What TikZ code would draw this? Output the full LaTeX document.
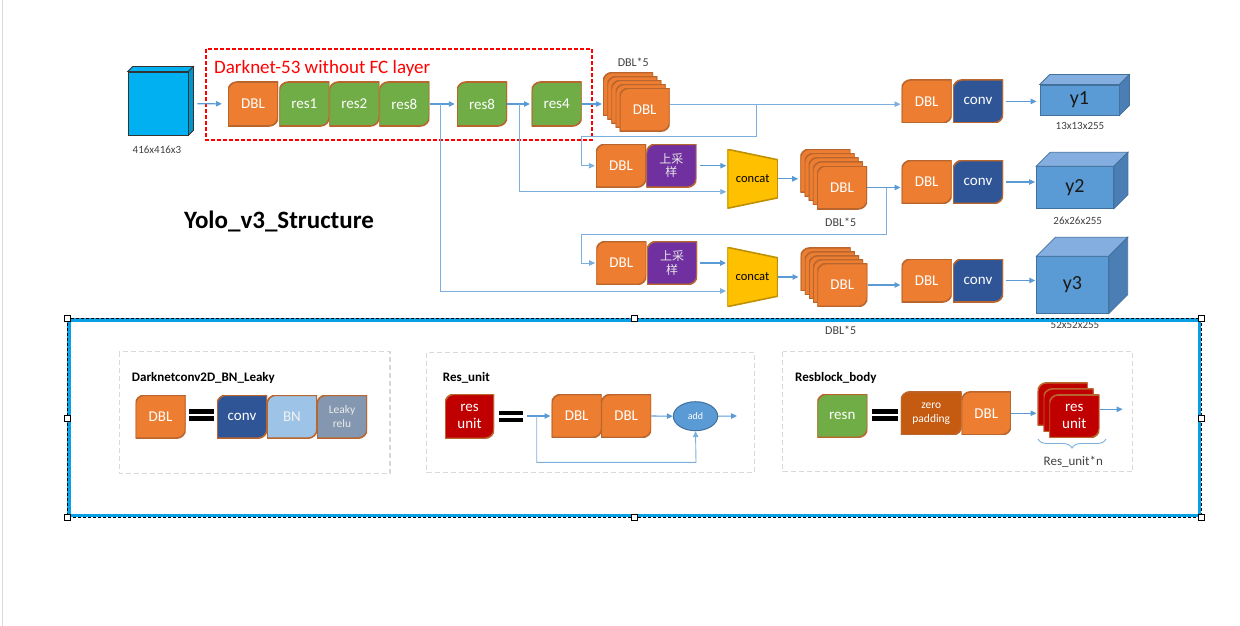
\documentclass[tikz,border=0pt]{standalone}
\usepackage{fontspec}
\setmainfont{Carlito}
\newfontfamily\cjk{Noto Sans CJK SC}
\usetikzlibrary{arrows.meta,shapes.geometric,decorations.pathreplacing}
\definecolor{dblorange}{HTML}{ED7D31}
\definecolor{resgreen}{HTML}{70AD47}
\definecolor{convblue}{HTML}{2F5597}
\definecolor{bnblue}{HTML}{9DC3E6}
\definecolor{leakygray}{HTML}{8497B0}
\definecolor{upviolet}{HTML}{7030A0}
\definecolor{resred}{HTML}{C00000}
\definecolor{padorange}{HTML}{C55A11}
\definecolor{boxedge}{HTML}{B8662E}
\definecolor{catyellow}{HTML}{FFC000}
\definecolor{catedge}{HTML}{BF9000}
\definecolor{linkblue}{HTML}{5B9BD5}
\definecolor{cubefront}{HTML}{5B9BD5}
\definecolor{cubetop}{HTML}{84AEE0}
\definecolor{cubeside}{HTML}{4A7EB5}
\definecolor{cubeedge}{HTML}{41719C}
\definecolor{incyan}{HTML}{00B0F0}
\definecolor{selblue}{HTML}{0AA0E6}
\begin{document}
\begin{tikzpicture}[x=1pt, y=-1pt,
    blk/.style={rectangle, inner sep=0pt, minimum width=50, minimum height=43, align=center,
        text=white, font=\fontsize{15}{17}\selectfont,
        path picture={
            \coordinate (nw) at (path picture bounding box.north west);
            \coordinate (se) at (path picture bounding box.south east);
            \filldraw[fill=#1, draw=boxedge, line width=1.6] ([yshift=-9]nw) .. controls ([yshift=-4]nw) and ([xshift=4]nw) .. ([xshift=9]nw)
                -- (se |- nw) -- ([yshift=9]se) .. controls ([yshift=4]se) and ([xshift=-4]se) .. ([xshift=-9]se) -- (nw |- se) -- cycle;
        }},
    cat/.style={rectangle, inner sep=0pt, minimum width=50.5, minimum height=59, font=\fontsize{12.5}{15}\selectfont,
        path picture={
            \filldraw[fill=catyellow, draw=catedge, line width=1.6] (path picture bounding box.north west)
                -- ([yshift=-10.5]path picture bounding box.north east) -- ([yshift=10.5]path picture bounding box.south east)
                -- (path picture bounding box.south west) -- cycle;
        }},
    cube/.style={rectangle, inner sep=0pt, fill=cubefront, draw=cubeedge, line width=0.8, font=\fontsize{20}{24}\selectfont, text=black!90},
    lbl/.style={font=\fontsize{11}{13}\selectfont, text=black!75},
    up/.style={blk=upviolet, text=black!10, font=\cjk\fontsize{12}{13.5}\selectfont},
    small/.style={font=\fontsize{11.5}{14}\selectfont},
    arr/.style={draw=linkblue, line width=1.1, -{Triangle[length=6pt, width=5.5pt]}},
    ln/.style={arr, draw=linkblue!80, line width=0.9},
    pnl/.style={draw=black!15, line width=1.5, dash pattern=on 5pt off 3pt},
    ptitle/.style={anchor=west, inner sep=0pt, font=\bfseries\fontsize{13}{15}\selectfont},
    hdl/.style={rectangle, draw=black, fill=white, line width=0.8, minimum size=6, inner sep=0pt}]
    \useasboundingbox (0,0) rectangle (1240,626);
    \draw[black!15, line width=1] (2,0) -- (2,626);

    \node[draw=black!80, fill=incyan, line width=0.8, minimum width=60, minimum height=63, inner sep=0pt] (in) at (158,103.5) {};
    \filldraw[fill=incyan, draw=black!80, line width=0.8] (in.north west) -- ([shift={(5,-5)}]in.north west) -- ([shift={(5,-5)}]in.north east) -- (in.north east) -- cycle;
    \filldraw[fill=incyan!85!black, draw=black!80, line width=0.8] (in.north east) -- ([shift={(5,-5)}]in.north east) -- ([shift={(5,-5)}]in.south east) -- (in.south east) -- cycle;
    \node[lbl] (inlbl) at (157,150) {416x416x3};

    \draw[red, line width=1.5, dash pattern=on 4pt off 2pt] (206,49) rectangle (592,140);
    \node[anchor=base west, inner sep=0pt, text=red, font=\fontsize{19}{22}\selectfont] (dkt) at (214,73.5) {Darknet-53 without FC layer};
    \node[anchor=base, font=\bfseries\fontsize{25}{30}\selectfont] (title) at (279,228.3) {Yolo\_v3\_Structure};

    \node[blk=dblorange, minimum height=44] (dbl0) at (253,104) {DBL};
    \node[blk=resgreen, minimum height=44] (res1) at (304.3,104) {res1};
    \node[blk=resgreen, minimum height=44] (res2) at (354.3,104) {res2};
    \node[blk=resgreen, minimum height=44] (res8a) at (404.3,104) {res8};
    \node[blk=resgreen, minimum height=44] (res8b) at (482,104) {res8};
    \node[blk=resgreen, minimum height=44] (res4) at (556.7,104) {res4};

    \foreach \i in {4,...,1}
        \node[blk=dblorange, xshift={-4.15*\i}, yshift={3.9*\i}] (s1-\i) at (644.7,109.7) {};
    \node[blk=dblorange] (s1) at (644.7,109.7) {DBL};
    \node[lbl, font=\fontsize{12}{14}\selectfont] (s1lbl) at (633.3,62.7) {DBL*5};

    \node[blk=dblorange] (u1) at (621,165.7) {DBL};
    \node[up] (p1) at (671.4,165.7) {上采\\样};
    \node[cat] (c1) at (752.7,178.8) {concat};
    \foreach \i in {4,...,1}
        \node[blk=dblorange, xshift={-4.15*\i}, yshift={4.2*\i}] (s2-\i) at (842,187.5) {};
    \node[blk=dblorange] (s2) at (842,187.5) {DBL};
    \node[lbl, font=\fontsize{12}{14}\selectfont] (s2lbl) at (840.7,222.7) {DBL*5};

    \node[blk=dblorange] (u2) at (621.3,263) {DBL};
    \node[up] (p2) at (672,263) {上采\\样};
    \node[cat, minimum height=59.4] (c2) at (752.5,277) {concat};
    \foreach \i in {4,...,1}
        \node[blk=dblorange, xshift={-4.15*\i}, yshift={3.9*\i}] (s3-\i) at (842.3,285) {};
    \node[blk=dblorange] (s3) at (842.3,285) {DBL};
    \node[lbl, font=\fontsize{12}{14}\selectfont] (s3lbl) at (840.7,330.7) {DBL*5};

    \node[blk=dblorange] (d1) at (926.7,101.4) {DBL};
    \node[blk=convblue] (cv1) at (978,101.4) {conv};
    \node[blk=dblorange] (d2) at (926.7,182) {DBL};
    \node[blk=convblue] (cv2) at (978,182) {conv};
    \node[blk=dblorange] (d3) at (926.7,280.5) {DBL};
    \node[blk=convblue] (cv3) at (978,280.5) {conv};

    \node[cube, minimum width=79, minimum height=30] (y1) at (1079.5,100) {y1};
    \node[cube, minimum width=77, minimum height=41.6] (y2) at (1075,187.5) {y2};
    \node[cube, minimum width=71.6, minimum height=56.6] (y3) at (1072.5,285) {y3};
    \foreach \c/\d in {y1/10,y2/14,y3/19} {
        \filldraw[fill=cubetop, draw=cubeedge, line width=0.8] (\c.north west) -- ([shift={(\d,-\d)}]\c.north west) -- ([shift={(\d,-\d)}]\c.north east) -- (\c.north east) -- cycle;
        \filldraw[fill=cubeside, draw=cubeedge, line width=0.8] (\c.north east) -- ([shift={(\d,-\d)}]\c.north east) -- ([shift={(\d,-\d)}]\c.south east) -- (\c.south east) -- cycle;
    }
    \node[lbl] (y1lbl) at (1080,126) {13x13x255};
    \node[lbl] (y2lbl) at (1077.7,220.7) {26x26x255};
    \node[lbl] (y3lbl) at (1075,325) {52x52x255};

    \coordinate (t1) at (440.7,104);
    \coordinate (t2) at (519.3,104);
    \coordinate (b1) at (756,104.2);
    \coordinate (k1) at (581.7,136);
    \coordinate (b2) at (886.7,187.5);
    \coordinate (k2) at (581.7,234);
    \draw[arr, shorten <=9, shorten >=6] (in) -- (dbl0);
    \draw[arr, shorten >=2] (res8a) -- (res8b);
    \draw[arr, shorten >=1.5] (res8b) -- (res4);
    \draw[arr, shorten >=1] (res4) -- (res4 -| s1-4.west);
    \draw[ln, shorten >=1] (t1) |- ([yshift=-14]c2.west);
    \draw[ln, shorten >=1] (t2) |- ([yshift=-13]c1.west);
    \draw[ln, shorten >=1] ([yshift=5.5]s1.east) -- ([yshift=5.5]s1.east -| d1.west);
    \draw[ln, shorten >=1] (b1) |- (k1) |- (u1.west);
    \draw[arr, shorten <=3, shorten >=1] (p1) -- (p1 -| c1.west);
    \draw[arr, shorten >=2] (c1.east) -- (c1.east -| s2-4.west);
    \draw[arr, shorten >=1] (s2.east) -- (s2.east -| d2.west);
    \draw[ln, shorten >=1] (b2) |- (k2) |- (u2.west);
    \draw[arr, shorten <=3, shorten >=1] (p2) -- (p2 -| c2.west);
    \draw[arr, shorten >=2] (c2.east) -- (c2.east -| s3-4.west);
    \draw[arr, shorten >=1] (s3.east) -- (s3.east -| d3.west);
    \draw[arr, shorten <=2.5, shorten >=3] (cv1.east) -- (cv1.east -| y1.west);
    \draw[arr, shorten <=2.5, shorten >=1] (cv2.east) -- (cv2.east -| y2.west);
    \draw[arr, shorten <=2.5, shorten >=1] (cv3.east) -- (cv3.east -| y3.west);

    \draw[pnl] (119.3,351.7) rectangle (390,473.3);
    \draw[pnl] (426.7,352.7) rectangle (754.3,472.7);
    \draw[pnl] (782.7,351.7) rectangle (1132.7,471.7);
    \node[ptitle] (pt1) at (131.7,378.3) {Darknetconv2D\_BN\_Leaky};
    \node[ptitle] (pt2) at (442.7,378.3) {Res\_unit};
    \node[ptitle] (pt3) at (795,378.3) {Resblock\_body};

    \node[blk=dblorange] (pd) at (160.5,416.7) {DBL};
    \fill[black] (189.3,409.3) rectangle (214,414);
    \fill[black] (189.3,416) rectangle (214,421);
    \node[blk=convblue] (pc) at (242,416.7) {conv};
    \node[blk=bnblue, text=black!5] (pb) at (292,416.7) {BN};
    \node[blk=leakygray, small, text=black!8] (pl) at (342,416.7) {Leaky\\relu};

    \node[blk=resred, minimum width=49, minimum height=44] (ru) at (469.5,416.3) {res\\unit};
    \fill[black] (499.3,411) rectangle (523.3,415.3);
    \fill[black] (499.3,417.5) rectangle (523.3,422.3);
    \node[blk=dblorange] (q1) at (576.7,416) {DBL};
    \node[blk=dblorange] (q2) at (626.2,416) {DBL};
    \node[ellipse, fill=linkblue, draw=cubeedge, line width=1, minimum width=44.4, minimum height=29, inner sep=0pt,
        text=white, font=\fontsize{10}{12}\selectfont] (add) at (695.5,416.2) {add};
    \coordinate (k4) at (526.7,416);
    \coordinate (k5) at (536.7,416);
    \coordinate (k6) at (696,462.3);
    \coordinate (o2) at (737,416);
    \draw[arr, shorten >=1] (k4) -- (q1.west);
    \draw[arr] (q2.east) -- (add.west);
    \draw[arr] (add.east) -- (o2);
    \draw[ln] (k5) |- (k6) -- (add.south);

    \node[blk=resgreen] (rn) at (842.3,415.8) {resn};
    \fill[black] (871.7,409) rectangle (897.7,414);
    \fill[black] (871.7,416) rectangle (897.7,421);
    \node[blk=padorange, small, minimum width=60.7] (zp) at (931.3,413.3) {zero\\padding};
    \node[blk=dblorange, minimum width=49.3] (zd) at (986.3,413.3) {DBL};
    \foreach \i in {2,1}
        \node[blk=resred, minimum height=42.7, xshift={-5.8*\i}, yshift={6.1*\i}] (rs-\i) at (1074.3,416.3) {};
    \node[blk=resred, minimum height=42.7] (rs) at (1074.3,416.3) {res\\unit};
    \coordinate (o3) at (1122.7,409.3);
    \draw[arr, shorten >=1] (zd.east) -- (zd.east -| rs-2.west);
    \draw[arr] (rs.east |- o3) -- (o3);
    \draw[draw=linkblue!80, line width=0.9, decorate, decoration={brace, mirror, amplitude=9pt}] (1038,439) -- (1106,439);
    \node[font=\fontsize{13}{15}\selectfont, text=black!75] (rsn) at (1073.3,461.7) {Res\_unit*n};

    \draw[selblue, line width=3.5] (69,320) rectangle (1199.5,515.5);
    \draw[black, line width=0.8, dash pattern=on 3pt off 2pt] (67,318) rectangle (1201.5,517);
    \foreach \p [count=\i] in {(67,318.5),(634,318.5),(1201.5,318.5),(67,418),(1201.5,418),(67,517),(634,517),(1201.5,517)}
        \node[hdl] (h\i) at \p {};
\end{tikzpicture}
\end{document}
